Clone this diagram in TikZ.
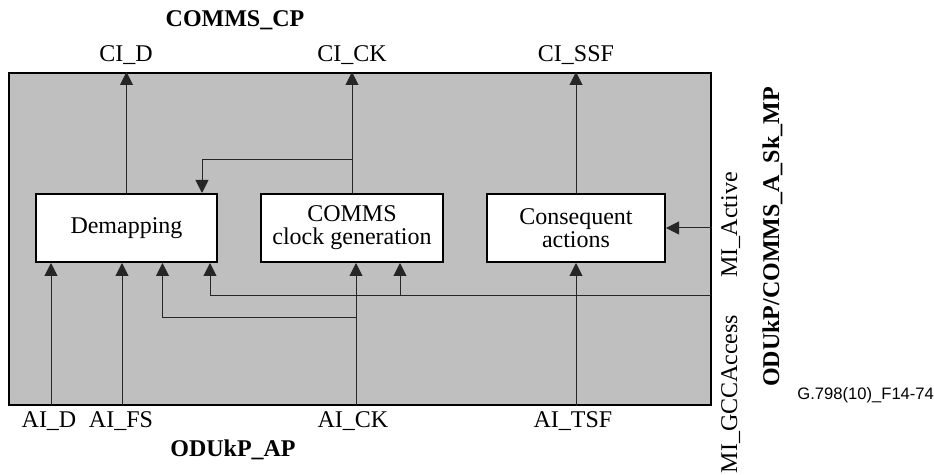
\documentclass[tikz,border=0pt]{standalone}
\usepackage{fontspec}
\setmainfont{Liberation Serif}
\newfontfamily\figfont{Liberation Sans}
\usetikzlibrary{arrows.meta, positioning}

\begin{document}
\begin{tikzpicture}[x=0.5pt, y=-0.5pt, >={Triangle[length=6.5pt,width=6.5pt]},
  font=\fontsize{12}{11.5}\selectfont,
  blk/.style={draw, line width=1pt, fill=white, align=center, minimum height=34pt, inner sep=0pt},
  sig/.style={->, line width=0.5pt, draw=black!85},
  lbl/.style={anchor=base, inner sep=0pt},
  ttl/.style={anchor=base, inner sep=0pt, font=\fontsize{12}{14}\selectfont\bfseries}]

\useasboundingbox (0,0) rectangle (934,475);

% function frame and blocks
\node[draw, line width=1pt, fill=gray!50, minimum width=351pt, minimum height=166pt, inner sep=0pt] (frame) at (360,239) {};
\node[blk, minimum width=90.5pt] (demap) at (126.5,228) {Demapping};
\node[blk, minimum width=91pt] (clkgen) at (352,228) {COMMS\\clock generation};
\node[blk, minimum width=89pt] (conseq) at (576,228) {Consequent\\actions};

% outputs to COMMS_CP
\draw[sig] (demap.north) -- (demap.north |- frame.north);
\draw[sig] (clkgen.north) -- (clkgen.north |- frame.north);
\draw[sig] (conseq.north) -- (conseq.north |- frame.north);
\coordinate (ckfork) at (352,160);
\draw[sig] (ckfork) -| ([xshift=-8pt]demap.north east);

% inputs from ODUkP_AP
\coordinate (aid) at (51,405);
\coordinate (aifs) at (122,405);
\coordinate (aick) at (356,405);
\draw[sig] (aid) -- (aid |- demap.south);
\draw[sig] (aifs) -- (aifs |- demap.south);
\draw[sig] (aick) -- (aick |- clkgen.south);
\draw[sig] (conseq.south |- frame.south) -- (conseq.south);
\coordinate (ckin) at (356,318);
\draw[sig] (ckin) -| ([xshift=18pt]demap.south);

% management inputs
\coordinate (gccin) at (711,296);
\coordinate (gccfork) at (400,296);
\draw[sig] (gccin) -| ([xshift=-4pt]demap.south east);
\draw[sig] (gccfork) -- (gccfork |- clkgen.south);
\draw[sig] (frame.east |- conseq.east) -- (conseq.east);

% labels
\node[ttl] (cpname) at (235,27) {COMMS\_CP};
\node[lbl] (cid) at (126,62) {CI\_D};
\node[lbl] (cick) at (352,62) {CI\_CK};
\node[lbl] (cissf) at (576,62) {CI\_SSF};
\node[lbl] (aidl) at (49,428) {AI\_D};
\node[lbl] (aifsl) at (121,428) {AI\_FS};
\node[lbl] (aickl) at (353,428) {AI\_CK};
\node[lbl] (aitsfl) at (573,428) {AI\_TSF};
\node[ttl] (apname) at (233,457) {ODUkP\_AP};
\node[lbl, rotate=90] (miactive) at (737,225) {MI\_Active};
\node[lbl, rotate=90] (migcc) at (737,394) {MI\_GCCAccess};
\node[ttl, rotate=90] (mpname) at (779,237) {ODUkP/COMMS\_A\_Sk\_MP};
\node[anchor=base west, inner sep=0pt, font=\figfont\fontsize{8.3}{10}\selectfont] (figid) at (797,400) {G.798(10)\_F14-74};

\end{tikzpicture}
\end{document}
